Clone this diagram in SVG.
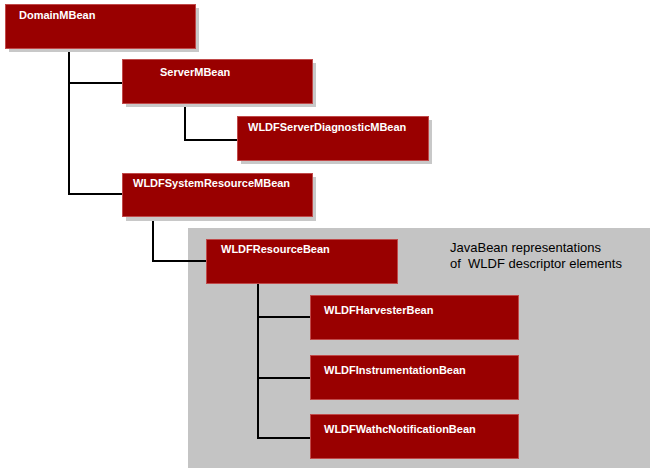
<svg xmlns="http://www.w3.org/2000/svg" width="655" height="473" viewBox="0 0 655 473">
<style>
.box{fill:#990000;stroke:#c04a4a;stroke-width:1}
.sh{fill:#c8c8c8}
.lbl{font-family:"Liberation Sans",Arial,sans-serif;font-size:11px;font-weight:bold;fill:#ffffff}
.note{font-family:"Liberation Sans",Arial,sans-serif;font-size:13px;fill:#000000}
.con{stroke:#000;stroke-width:2;fill:none}
</style>
<rect width="655" height="473" fill="#ffffff"/>
<rect x="188" y="228" width="462" height="240" fill="#c4c4c4"/>
<text class="note" x="450" y="252">JavaBean representations</text>
<text class="note" x="450" y="268" xml:space="preserve">of  WLDF descriptor elements</text>
<g id="connectors">
<polyline class="con" points="69,45 69,194 122,194"/>
<line class="con" x1="69" y1="83" x2="122" y2="83"/>
<polyline class="con" points="185,100 185,140 237,140"/>
<polyline class="con" points="153,212 153,261 206,261"/>
<polyline class="con" points="258,282 258,438 310,438"/>
<line class="con" x1="258" y1="317" x2="310" y2="317"/>
<line class="con" x1="258" y1="378" x2="310" y2="378"/>
</g>
<g id="DomainMBean">
<rect class="sh" x="9" y="8" width="190" height="44"/>
<rect class="box" x="5.5" y="4.5" width="190" height="44"/>
<text class="lbl" x="19" y="19">DomainMBean</text>
</g>
<g id="ServerMBean">
<rect class="sh" x="126" y="63" width="190" height="44"/>
<rect class="box" x="122.5" y="59.5" width="190" height="44"/>
<text class="lbl" x="160" y="76">ServerMBean</text>
</g>
<g id="WLDFServerDiagnosticMBean">
<rect class="sh" x="241" y="120" width="191" height="44"/>
<rect class="box" x="237.5" y="116.5" width="191" height="44"/>
<text class="lbl" x="248" y="131">WLDFServerDiagnosticMBean</text>
</g>
<g id="WLDFSystemResourceMBean">
<rect class="sh" x="126" y="177" width="190" height="44"/>
<rect class="box" x="122.5" y="173.5" width="190" height="43"/>
<text class="lbl" x="133" y="187">WLDFSystemResourceMBean</text>
</g>
<g id="WLDFResourceBean">
<rect class="box" x="206.5" y="239.5" width="191" height="44"/>
<text class="lbl" x="221" y="253">WLDFResourceBean</text>
</g>
<g id="WLDFHarvesterBean">
<rect class="box" x="310.5" y="295.5" width="208" height="44"/>
<text class="lbl" x="324" y="314">WLDFHarvesterBean</text>
</g>
<g id="WLDFInstrumentationBean">
<rect class="box" x="310.5" y="355.5" width="208" height="44"/>
<text class="lbl" x="324" y="374">WLDFInstrumentationBean</text>
</g>
<g id="WLDFWathcNotificationBean">
<rect class="box" x="310.5" y="414.5" width="208" height="44"/>
<text class="lbl" x="324" y="433">WLDFWathcNotificationBean</text>
</g>
</svg>
